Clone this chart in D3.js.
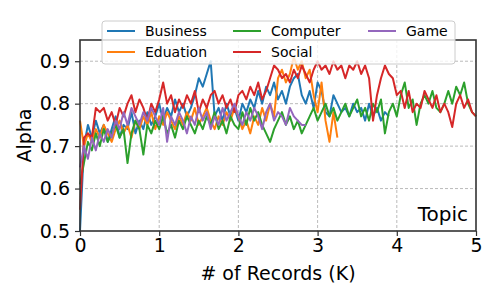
<!DOCTYPE html>
<html><head><meta charset="utf-8">
<script src="https://cdn.jsdelivr.net/npm/d3@7"></script>
<style>body{margin:0;background:#fff}svg{display:block}text{font-family:"DejaVu Sans",sans-serif;fill:#000}</style>
</head><body><svg id="c" width="498" height="299"></svg>
<script>
const step = 0.05; // K records between samples
const seriesNames = ["Business","Eduation","Computer","Social","Game"];
const colors = ["#1f77b4","#ff7f0e","#2ca02c","#d62728","#9467bd"];
const xTicks = [0,1,2,3,4,5];
const yTicks = [0.5,0.6,0.7,0.8,0.9];
const business = [0.50,0.70,0.75,0.72,0.76,0.73,0.75,0.71,0.74,0.77,0.72,0.75,0.74,0.78,0.73,0.76,0.74,0.78,0.75,0.77,
 0.80,0.76,0.79,0.77,0.81,0.78,0.80,0.77,0.79,0.82,0.86,0.84,0.87,0.90,0.77,0.79,0.76,0.80,0.77,0.79,
 0.76,0.80,0.78,0.81,0.79,0.83,0.80,0.84,0.82,0.85,0.81,0.83,0.80,0.84,0.86,0.87,0.82,0.80,0.83,0.79,
 0.85,0.83,0.78,0.77,0.82,0.80,0.78,0.79,0.77,0.80,0.78,0.79,0.76,0.80,0.77,0.79,0.76,0.78,0.77];
const education = [0.76,0.70,0.73,0.71,0.74,0.72,0.75,0.73,0.71,0.74,0.76,0.73,0.75,0.72,0.76,0.74,0.77,0.75,0.78,0.74,
 0.77,0.75,0.78,0.76,0.74,0.77,0.75,0.78,0.76,0.79,0.75,0.77,0.79,0.76,0.74,0.77,0.75,0.78,0.76,0.79,
 0.77,0.74,0.76,0.73,0.77,0.75,0.79,0.76,0.80,0.77,0.86,0.88,0.85,0.87,0.91,0.88,0.90,0.86,0.88,0.82,
 0.78,0.85,0.76,0.71,0.78,0.72];
const computer = [0.61,0.66,0.71,0.69,0.73,0.70,0.74,0.71,0.73,0.75,0.72,0.74,0.66,0.73,0.76,0.74,0.68,0.75,0.73,0.76,
 0.74,0.77,0.73,0.75,0.72,0.76,0.74,0.77,0.75,0.73,0.76,0.74,0.77,0.75,0.78,0.74,0.76,0.73,0.77,0.75,
 0.74,0.78,0.75,0.79,0.76,0.78,0.75,0.73,0.71,0.74,0.76,0.78,0.75,0.77,0.74,0.76,0.73,0.75,0.77,0.79,
 0.76,0.78,0.80,0.77,0.79,0.76,0.78,0.80,0.77,0.79,0.81,0.77,0.79,0.76,0.80,0.78,0.81,0.73,0.78,0.80,
 0.77,0.82,0.85,0.79,0.81,0.75,0.80,0.82,0.80,0.83,0.79,0.78,0.80,0.83,0.80,0.84,0.82,0.85,0.80,0.78,0.77];
const social = [0.55,0.72,0.73,0.72,0.79,0.78,0.79,0.76,0.78,0.75,0.79,0.77,0.80,0.82,0.78,0.81,0.79,0.76,0.80,0.78,
 0.81,0.85,0.80,0.82,0.78,0.81,0.79,0.82,0.80,0.83,0.78,0.81,0.79,0.82,0.83,0.80,0.82,0.79,0.81,0.78,
 0.82,0.83,0.81,0.84,0.82,0.85,0.81,0.83,0.86,0.89,0.88,0.86,0.87,0.85,0.88,0.86,0.89,0.87,0.85,0.88,
 0.90,0.88,0.89,0.87,0.90,0.88,0.89,0.86,0.89,0.88,0.90,0.87,0.89,0.86,0.76,0.82,0.86,0.89,0.87,0.86,
 0.82,0.83,0.79,0.83,0.78,0.80,0.79,0.83,0.81,0.79,0.82,0.78,0.80,0.78,0.745,0.80,0.82,0.79,0.81,0.78,0.77];
const game = [0.65,0.70,0.67,0.72,0.69,0.73,0.71,0.74,0.72,0.76,0.74,0.78,0.75,0.79,0.77,0.75,0.78,0.76,0.79,0.77,
 0.75,0.79,0.71,0.77,0.75,0.78,0.76,0.73,0.77,0.75,0.79,0.76,0.78,0.74,0.77,0.75,0.79,0.76,0.78,0.80,
 0.77,0.75,0.78,0.76,0.79,0.77,0.74,0.78,0.80,0.76,0.78,0.77,0.75,0.79,0.77,0.76,0.75,0.75];
const allSeries = [business, education, computer, social, game];

const svg = d3.select("#c");
const L=80, R=476, T=40, B=231;
const x = d3.scaleLinear().domain([0,5]).range([L,R]);
const y = d3.scaleLinear().domain([0.5,0.95]).range([B,T]);

// grid
const g = svg.append("g");
g.selectAll(".gx").data(xTicks.slice(1,-1)).join("line")
 .attr("x1",d=>x(d)).attr("x2",d=>x(d)).attr("y1",T).attr("y2",B)
 .attr("stroke","#aaa").attr("stroke-width",0.8).attr("stroke-dasharray","3,2");
g.selectAll(".gy").data(yTicks.slice(1)).join("line")
 .attr("x1",L).attr("x2",R).attr("y1",d=>y(d)).attr("y2",d=>y(d))
 .attr("stroke","#aaa").attr("stroke-width",0.8).attr("stroke-dasharray","3,2");

// lines
const line = d3.line().x((d,i)=>x(i*step)).y(d=>y(d));
allSeries.forEach((s,k)=>{
  svg.append("path").datum(s).attr("d",line).attr("fill","none")
   .attr("stroke",colors[k]).attr("stroke-width",2).attr("stroke-linejoin","round");
});

// spines
svg.append("rect").attr("x",L).attr("y",T).attr("width",R-L).attr("height",B-T)
 .attr("fill","none").attr("stroke","#333").attr("stroke-width",1.6);

// axes
const xa = svg.append("g").attr("transform",`translate(0,${B})`)
 .call(d3.axisBottom(x).tickValues(xTicks).tickFormat(d3.format("d")).tickSize(5).tickPadding(3));
const ya = svg.append("g").attr("transform",`translate(${L},0)`)
 .call(d3.axisLeft(y).tickValues(yTicks).tickFormat(d3.format(".1f")).tickSize(5).tickPadding(5));
[xa,ya].forEach(a=>{
  a.select(".domain").remove();
  a.selectAll("line").attr("stroke","#333").attr("stroke-width",1.2);
  a.selectAll("text").attr("font-size",19).attr("font-family","DejaVu Sans").attr("fill","#000");
});

svg.append("text").attr("x",(L+R)/2).attr("y",280).attr("text-anchor","middle")
 .attr("font-size",19).text("# of Records (K)");
svg.append("text").attr("transform",`translate(31,${(T+B)/2}) rotate(-90)`).attr("text-anchor","middle")
 .attr("font-size",19).text("Alpha");
svg.append("text").attr("x",468).attr("y",221).attr("text-anchor","end")
 .attr("font-size",20).text("Topic");

// legend
const lg = svg.append("g");
lg.append("rect").attr("x",102).attr("y",21).attr("width",353).attr("height",43).attr("rx",3)
 .attr("fill","#fff").attr("fill-opacity",0.8).attr("stroke","#ccc").attr("stroke-width",1);
const cols = [107,233,368], rows = [31,52];
seriesNames.forEach((n,k)=>{
  const cx = cols[Math.floor(k/2)], cy = rows[k%2];
  lg.append("line").attr("x1",cx).attr("x2",cx+28).attr("y1",cy).attr("y2",cy)
   .attr("stroke",colors[k]).attr("stroke-width",2);
  lg.append("text").attr("x",cx+38).attr("y",cy).attr("dy","0.36em").attr("font-size",14).text(n);
});
</script></body></html>
